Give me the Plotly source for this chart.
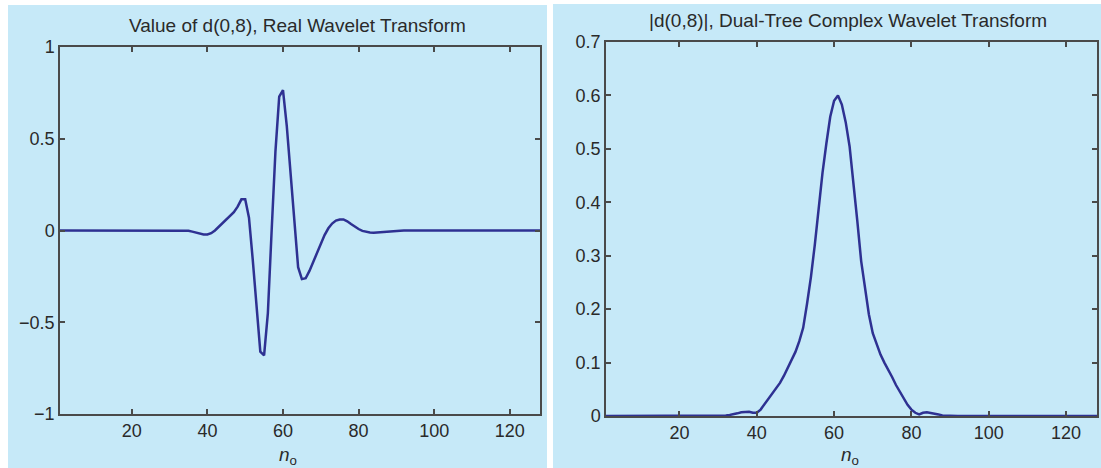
import plotly.graph_objects as go

n = list(range(1, 129))

real_vals = [
    0.0, 0.0, 0.0, 0.0, 0.0, 0.0, 0.0, 0.0, 0.0, 0.0,
    0.0, 0.0, 0.0, 0.0, 0.001, 0.001, 0.0, 0.0, 0.0, 0.0,
    0.0, 0.001, 0.001, 0.0, 0.0, 0.0, 0.0, 0.0, 0.0, 0.0,
    0.001, 0.002, 0.003, 0.002, -0.001, -0.006, -0.012, -0.018, -0.022, -0.022,
    -0.015, 0.0, 0.02, 0.045, 0.06, 0.08, 0.10, 0.13, 0.17, 0.17,
    0.07, -0.16, -0.40, -0.66, -0.68, -0.45, 0.0, 0.43, 0.73, 0.765,
    0.57, 0.30, 0.02, -0.20, -0.265, -0.26, -0.22, -0.17, -0.115, -0.065,
    -0.025, 0.012, 0.038, 0.054, 0.06, 0.06, 0.05, 0.035, 0.02, 0.008,
    -0.002, -0.008, -0.011, -0.012, -0.01, -0.007, -0.005, -0.003, -0.002, -0.001,
    -0.001, 0.0, 0.0, 0.0, 0.0, 0.0, 0.0, 0.0, 0.0, 0.0,
    0.0, 0.0, 0.0, 0.0, 0.0, 0.0, 0.0, 0.0, 0.0, 0.0,
    0.0, 0.0, 0.0, 0.0, 0.0, 0.0, 0.0, 0.0, 0.0, 0.0,
    0.0, 0.0, 0.0, 0.0, 0.0, 0.0, 0.0, 0.0,
]

complex_vals = [
    0.0, 0.0, 0.0, 0.0, 0.0, 0.0, 0.0, 0.0, 0.0, 0.0,
    0.0, 0.0, 0.0, 0.0, 0.0, 0.0, 0.0, 0.0, 0.0, 0.0,
    0.0, 0.0, 0.0, 0.0, 0.0, 0.0, 0.0, 0.0, 0.0, 0.0,
    0.0005, 0.001, 0.002, 0.003, 0.005, 0.007, 0.008, 0.008, 0.006, 0.006,
    0.012, 0.022, 0.030, 0.042, 0.052, 0.062, 0.075, 0.090, 0.105, 0.120,
    0.140, 0.165, 0.210, 0.260, 0.320, 0.390, 0.455, 0.510, 0.560, 0.590,
    0.600, 0.583, 0.550, 0.505, 0.440, 0.365, 0.290, 0.240, 0.190, 0.155,
    0.135, 0.115, 0.100, 0.087, 0.073, 0.058, 0.045, 0.032, 0.021, 0.012,
    0.006, 0.003, 0.006, 0.007, 0.006, 0.005, 0.003, 0.001, 0.0005, 0.0,
    0.0, 0.0, 0.0, 0.0, 0.0, 0.0, 0.0, 0.0, 0.0, 0.0,
    0.0, 0.0, 0.0, 0.0, 0.0, 0.0, 0.0, 0.0, 0.0, 0.0,
    0.0, 0.0, 0.0, 0.0, 0.0, 0.0, 0.0, 0.0, 0.0, 0.0,
    0.0, 0.0, 0.0, 0.0, 0.0, 0.0, 0.0, 0.0,
]

x_ticks = [20, 40, 60, 80, 100, 120]
left_y_ticks = [-1, -0.5, 0, 0.5, 1]
left_y_labels = ["\u22121", "\u22120.5", "0", "0.5", "1"]
right_y_ticks = [0, 0.1, 0.2, 0.3, 0.4, 0.5, 0.6, 0.7]
right_y_labels = ["0", "0.1", "0.2", "0.3", "0.4", "0.5", "0.6", "0.7"]

title_left = "Value of d(0,8), Real Wavelet Transform"
title_right = "|d(0,8)|, Dual-Tree Complex Wavelet Transform"

W, H = 1101, 468
BG = "#c6e9f8"
LINE = "#2e3192"
AX = "#4a4a4a"
FONT = "Liberation Sans, Arial, sans-serif"
TXT = "#2a2a2a"

def px(x):
    return x / W

def py(y):
    return 1 - y / H

fig = go.Figure()
fig.add_trace(go.Scatter(x=n, y=real_vals, mode="lines", xaxis="x", yaxis="y",
                         line=dict(color=LINE, width=2.5), showlegend=False))
fig.add_trace(go.Scatter(x=n, y=complex_vals, mode="lines", xaxis="x2", yaxis="y2",
                         line=dict(color=LINE, width=2.5), showlegend=False))

axis_common = dict(showline=True, linecolor=AX, linewidth=1.5, mirror="ticks",
                   ticks="inside", ticklen=5, tickcolor=AX, tickwidth=1.5,
                   showgrid=False, zeroline=False, automargin=False,
                   tickfont=dict(family=FONT, size=18, color=TXT))

ann_common = dict(xref="paper", yref="paper", showarrow=False,
                  xanchor="center", yanchor="middle")

fig.update_layout(
    width=W, height=H,
    margin=dict(l=0, r=0, t=0, b=0, pad=0, autoexpand=False),
    paper_bgcolor="white",
    plot_bgcolor="rgba(0,0,0,0)",
    xaxis=dict(domain=[px(60), px(540)], range=[1, 128], tickvals=x_ticks,
               anchor="y", ticklabelstandoff=0, **axis_common),
    yaxis=dict(domain=[py(414), py(47)], range=[-1, 1], tickvals=left_y_ticks,
               ticktext=left_y_labels, anchor="x", ticklabelstandoff=0, **axis_common),
    xaxis2=dict(domain=[px(606), px(1097)], range=[1, 128], tickvals=x_ticks,
                anchor="y2", ticklabelstandoff=0, **axis_common),
    yaxis2=dict(domain=[py(416), py(42)], range=[0, 0.7], tickvals=right_y_ticks,
                ticktext=right_y_labels, anchor="x2", ticklabelstandoff=0, **axis_common),
    shapes=[
        dict(type="rect", xref="paper", yref="paper", x0=px(8), x1=px(547),
             y0=0, y1=py(5), fillcolor=BG, line=dict(width=0), layer="below"),
        dict(type="rect", xref="paper", yref="paper", x0=px(553), x1=1,
             y0=0, y1=py(4), fillcolor=BG, line=dict(width=0), layer="below"),
    ],
    annotations=[
        dict(text=title_left, x=px(297), y=py(25),
             font=dict(family=FONT, size=19, color=TXT), **ann_common),
        dict(text=title_right, x=px(848), y=py(21),
             font=dict(family=FONT, size=19, color=TXT), **ann_common),
        dict(text="<i>n</i><sub>o</sub>", x=px(288), y=py(456),
             font=dict(family=FONT, size=19, color=TXT), **ann_common),
        dict(text="<i>n</i><sub>o</sub>", x=px(850), y=py(456),
             font=dict(family=FONT, size=19, color=TXT), **ann_common),
    ],
)

fig.write_html("out.html", config={"displayModeBar": False},
               post_script="document.body.style.margin='0';document.body.style.overflow='hidden';")
